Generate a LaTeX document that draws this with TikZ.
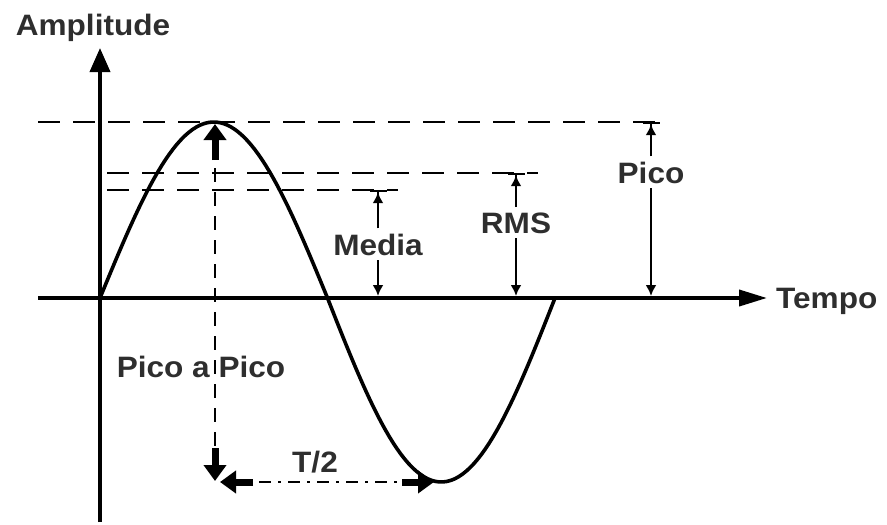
\documentclass[tikz,border=0pt]{standalone}
\usepackage{fontspec}
\setmainfont[FakeStretch=1.07]{Liberation Sans}
\usetikzlibrary{calc, positioning}
\usetikzlibrary{arrows.meta}

\begin{document}
\begin{tikzpicture}[x=1pt,y=-1pt,line join=round,
  lbl/.style={font=\bfseries\fontsize{29.5}{34}\selectfont,text=black!82,inner sep=5pt},
  guide/.style={line width=2.8pt,dash pattern=on 22pt off 13pt},
  dimline/.style={line width=2.2pt},
  blockarrow/.style={line width=7pt,-{Triangle[length=16pt,width=22pt]}}]
\path[use as bounding box] (0,0) rectangle (887,525);

\coordinate (O) at (100,298);
\coordinate (Ytop) at (100,48);
\coordinate (Ybot) at (100,522);
\coordinate (Xleft) at (38,298);
\coordinate (Xright) at (767,298);
\def\ampup{176}
\def\ampdown{184}
\def\xstep{1.2639}

% reference levels
\coordinate (PeakL) at (38,122);
\coordinate (PeakR) at (668,122);
\coordinate (RmsL) at (107,173);
\coordinate (RmsR) at (538,173);
\coordinate (MedL) at (107,190);
\coordinate (MedR) at (398,190);
\draw[guide] (PeakL) -- (PeakR);
\draw[guide] (RmsL) -- (RmsR);
\draw[guide] (MedL) -- (MedR);

% the wave
\draw[line width=3.6pt]
  plot[domain=0:180,samples=60] ({100+\xstep*\x},{298-\ampup*sin(\x)})
  -- plot[domain=180:360,samples=60] ({100+\xstep*\x},{298-\ampdown*sin(\x)});

% axes
\draw[line width=3.8pt,-{Triangle[length=24pt,width=20pt]}] (Ybot) -- (Ytop);
\draw[line width=3.8pt,-{Triangle[length=28pt,width=16pt]}] (Xleft) -- (Xright);

\node[lbl,anchor=base] (amp) at (93,35) {Amplitude};
\node[lbl,anchor=base west,inner sep=0pt] (tempo) at (776,308) {Tempo};

% peak to peak
\coordinate (UpA) at (215,160);
\coordinate (UpB) at (215,124);
\coordinate (DashA) at (215,168);
\coordinate (DashB) at (215,446);
\coordinate (DownA) at (215,448);
\coordinate (DownB) at (215,481);
\draw[blockarrow] (UpA) -- (UpB);
\draw[line width=2.6pt,dash pattern=on 14pt off 10pt] (DashA) -- (DashB);
\draw[blockarrow] (DownA) -- (DownB);
\node[lbl,anchor=base] (pp) at (201,377) {Pico a Pico};

% half period
\coordinate (HalfL) at (253,482);
\coordinate (HalfLtip) at (220,482);
\coordinate (HalfR) at (402,482);
\coordinate (HalfRtip) at (434,482);
\draw[blockarrow] (HalfL) -- (HalfLtip);
\draw[blockarrow] (HalfR) -- (HalfRtip);
\draw[line width=2.6pt,dash pattern=on 12pt off 7pt on 3pt off 7pt] (HalfL) ++(6,0) -- (HalfR);
\node[lbl,anchor=base] (half) at (315,472) {T/2};

% media, rms, pico
\node[lbl,anchor=base] (media) at (378,255) {Media};
\node[lbl,anchor=base] (rms) at (516,233) {RMS};
\node[lbl,anchor=base] (pico) at (651,183) {Pico};
\coordinate (MedTop) at (378,190);
\coordinate (MedAxis) at (378,296);
\coordinate (RmsTop) at (516,173);
\coordinate (RmsAxis) at (516,296);
\coordinate (PicoTop) at (651,122);
\coordinate (PicoAxis) at (651,296);
\foreach \lab/\top/\bot in {media/MedTop/MedAxis,rms/RmsTop/RmsAxis,pico/PicoTop/PicoAxis}{
  \draw[dimline,-{Latex[length=11pt,width=11pt] Bar[width=17pt]}] (\lab.north) -- (\top);
  \draw[dimline,-{Latex[length=11pt,width=11pt]}] (\lab.south) -- (\bot);
}
\end{tikzpicture}
\end{document}
